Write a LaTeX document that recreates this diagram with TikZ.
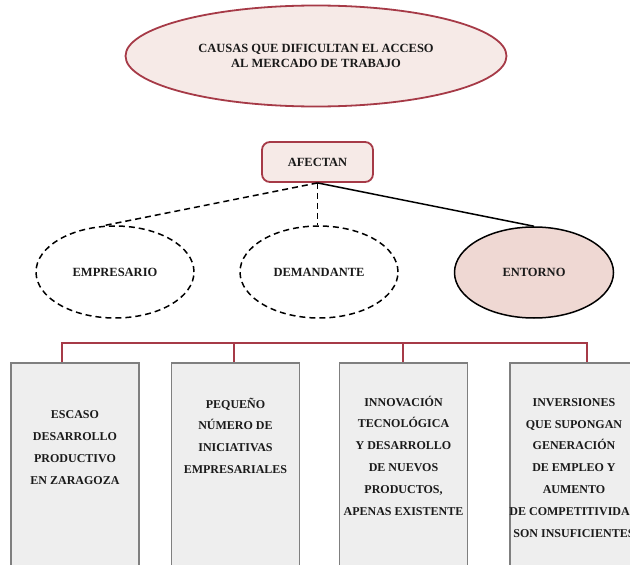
\documentclass[tikz,border=0pt]{standalone}
\usepackage{fontspec}
\setmainfont{Liberation Serif}
\usetikzlibrary{shapes.geometric}
\definecolor{dred}{HTML}{A63A47}
\definecolor{pinkfill}{HTML}{F6EAE7}
\definecolor{entfill}{HTML}{EFD8D3}
\definecolor{boxfill}{HTML}{EEEEEE}
\definecolor{boxline}{HTML}{7F7F7F}
\definecolor{txt}{HTML}{1A1A1A}
\begin{document}
\begin{tikzpicture}[x=1pt,y=-1pt,
  lbl/.style={font=\bfseries\fontsize{12.5}{15}\selectfont, align=center, text=txt},
  topell/.style={ellipse, draw=dred, line width=1.8pt, fill=pinkfill, minimum width=381pt, minimum height=101pt, inner sep=0pt, lbl},
  afbox/.style={rectangle, rounded corners=8pt, draw=dred, line width=1.8pt, fill=pinkfill, minimum width=111pt, minimum height=40pt, inner sep=0pt, lbl},
  dashell/.style={ellipse, draw=black, line width=1.5pt, dash pattern=on 6pt off 4pt, minimum width=158pt, minimum height=92pt, inner sep=0pt, lbl},
  entell/.style={ellipse, draw=black, line width=1.5pt, fill=entfill, minimum width=159pt, minimum height=91pt, inner sep=0pt, lbl},
  cbox/.style={rectangle, draw=boxline, line width=1.8pt, fill=boxfill, minimum width=128pt, minimum height=260pt, anchor=north, inner sep=0pt},
  ctext/.style={font=\bfseries\fontsize{12}{21.8}\selectfont, align=center, anchor=base, inner sep=0pt, text=txt},
  brk/.style={draw=dred, line width=1.5pt},
  dashlink/.style={draw=black, line width=1.5pt, dash pattern=on 6pt off 4pt},
  solidlink/.style={draw=black, line width=1.5pt}
]
\useasboundingbox (0,0) rectangle (630,565);
\clip (0,0) rectangle (630,565);

\node[topell] (top) at (316,56) {CAUSAS QUE DIFICULTAN EL ACCESO\\AL MERCADO DE TRABAJO};
\node[afbox] (af) at (317.5,162) {AFECTAN};

\node[dashell] (emp) at (115,272) {EMPRESARIO};
\node[dashell] (dem) at (319,272) {DEMANDANTE};
\node[entell] (ent) at (534,272.5) {ENTORNO};

\draw[dashlink] (af.south) -- (emp.105);
\draw[dashlink] (af.south) -- (af.south |- dem.north);
\draw[solidlink] (af.south) -- (ent.north);

\node[cbox] (b1) at (75,362) {};
\node[cbox] (b2) at (235.5,362) {};
\node[cbox] (b3) at (403.5,362) {};
\node[cbox] (b4) at (574,362) {};

\draw[brk] ([xshift=-13pt]b1.north) -- ++(0,-19) -| ([xshift=13pt]b4.north);
\draw[brk] ([xshift=-1.5pt]b2.north) -- ++(0,-19);
\draw[brk] ([xshift=-0.5pt]b3.north) -- ++(0,-19);

\node[ctext] (t1) at (75,484) {ESCASO\\DESARROLLO\\PRODUCTIVO\\EN ZARAGOZA};
\node[ctext] (t2) at (235.5,473.5) {PEQUEÑO\\NÚMERO DE\\INICIATIVAS\\EMPRESARIALES};
\node[ctext] (t3) at (403.5,515) {INNOVACIÓN\\TECNOLÓGICA\\Y DESARROLLO\\DE NUEVOS\\PRODUCTOS,\\APENAS EXISTENTE};
\node[ctext] (t4) at (574,537) {INVERSIONES\\QUE SUPONGAN\\GENERACIÓN\\DE EMPLEO Y\\AUMENTO\\DE COMPETITIVIDAD\\SON INSUFICIENTES};
\end{tikzpicture}
\end{document}
